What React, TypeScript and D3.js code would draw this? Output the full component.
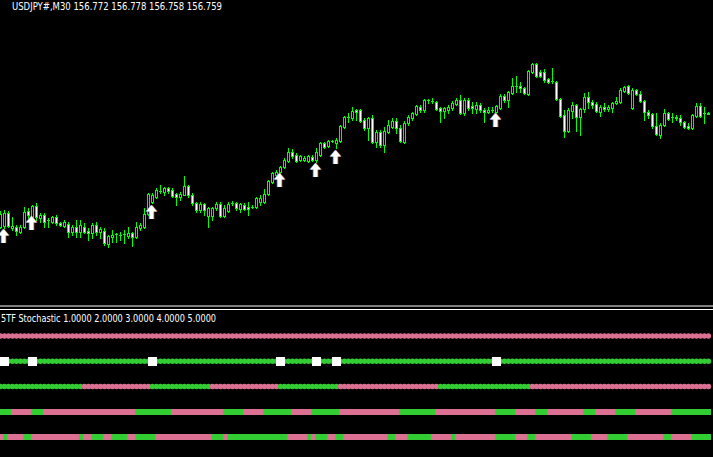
import React from "react";
import * as d3 from "d3";

const W = 713;
const H = 457;

const symbolLabel = "USDJPY#,M30";
const lastQuote = [156.772, 156.778, 156.758, 156.759];
const indicatorName = "5TF Stochastic";
const levels = [1, 2, 3, 4, 5];

// [open, high, low, close], one per M30 bar
const ohlc: number[][] = [
  [155.63, 155.79, 155.62, 155.76], [155.64, 155.8, 155.62, 155.77], [155.77, 155.79, 155.63, 155.64], [155.62, 155.73, 155.6, 155.64],
  [155.63, 155.65, 155.55, 155.59], [155.58, 155.65, 155.57, 155.63], [155.63, 155.83, 155.62, 155.78], [155.79, 155.82, 155.7, 155.75],
  [155.73, 155.85, 155.72, 155.84], [155.84, 155.87, 155.7, 155.73], [155.72, 155.77, 155.68, 155.75], [155.75, 155.77, 155.63, 155.68],
  [155.7, 155.72, 155.63, 155.7], [155.68, 155.74, 155.67, 155.73], [155.73, 155.75, 155.65, 155.67], [155.67, 155.68, 155.64, 155.65],
  [155.64, 155.7, 155.63, 155.68], [155.66, 155.68, 155.53, 155.58], [155.58, 155.65, 155.55, 155.63], [155.63, 155.7, 155.53, 155.58],
  [155.58, 155.7, 155.53, 155.65], [155.63, 155.67, 155.57, 155.58], [155.59, 155.62, 155.5, 155.57], [155.57, 155.67, 155.52, 155.65],
  [155.65, 155.68, 155.55, 155.58], [155.58, 155.63, 155.52, 155.61], [155.59, 155.62, 155.45, 155.47], [155.46, 155.55, 155.43, 155.54],
  [155.53, 155.6, 155.48, 155.55], [155.56, 155.57, 155.48, 155.56], [155.55, 155.58, 155.5, 155.55], [155.56, 155.6, 155.47, 155.56],
  [155.54, 155.63, 155.52, 155.57], [155.57, 155.58, 155.44, 155.53], [155.53, 155.68, 155.52, 155.63], [155.62, 155.67, 155.6, 155.65],
  [155.63, 155.82, 155.62, 155.76], [155.76, 155.97, 155.75, 155.96], [155.88, 155.97, 155.87, 155.95], [155.93, 156.02, 155.92, 156.0],
  [155.99, 156.05, 155.97, 155.99], [155.98, 156.03, 155.95, 156.02], [156.02, 156.03, 155.97, 155.99], [156.0, 156.02, 155.93, 155.94],
  [155.96, 155.97, 155.85, 155.93], [155.93, 155.98, 155.9, 155.96], [155.95, 156.14, 155.95, 156.04], [156.04, 156.05, 155.93, 155.95],
  [155.95, 155.97, 155.85, 155.87], [155.87, 155.88, 155.78, 155.8], [155.8, 155.88, 155.78, 155.86], [155.86, 155.87, 155.75, 155.8],
  [155.74, 155.83, 155.63, 155.82], [155.74, 155.83, 155.7, 155.82], [155.82, 155.88, 155.8, 155.86], [155.86, 155.88, 155.73, 155.74],
  [155.74, 155.85, 155.73, 155.82], [155.79, 155.88, 155.78, 155.86], [155.87, 155.89, 155.85, 155.87], [155.87, 155.88, 155.8, 155.82],
  [155.81, 155.87, 155.78, 155.86], [155.85, 155.87, 155.8, 155.81], [155.83, 155.88, 155.75, 155.81], [155.83, 155.85, 155.82, 155.83],
  [155.83, 155.93, 155.82, 155.92], [155.88, 155.95, 155.85, 155.92], [155.88, 156.01, 155.87, 155.96], [155.96, 156.1, 155.95, 156.09],
  [156.08, 156.18, 156.07, 156.17], [156.15, 156.2, 156.13, 156.18], [156.18, 156.24, 156.17, 156.23], [156.23, 156.32, 156.22, 156.3],
  [156.29, 156.42, 156.28, 156.38], [156.38, 156.41, 156.32, 156.34], [156.35, 156.37, 156.28, 156.29], [156.3, 156.35, 156.29, 156.34],
  [156.3, 156.34, 156.29, 156.32], [156.29, 156.35, 156.28, 156.34], [156.33, 156.35, 156.29, 156.3], [156.3, 156.42, 156.28, 156.38],
  [156.35, 156.48, 156.34, 156.47], [156.47, 156.48, 156.42, 156.43], [156.44, 156.5, 156.43, 156.49], [156.49, 156.5, 156.48, 156.49],
  [156.47, 156.52, 156.42, 156.5], [156.49, 156.65, 156.48, 156.64], [156.63, 156.74, 156.62, 156.73], [156.73, 156.77, 156.68, 156.73],
  [156.72, 156.83, 156.7, 156.79], [156.8, 156.81, 156.7, 156.78], [156.8, 156.81, 156.68, 156.69], [156.7, 156.72, 156.6, 156.62],
  [156.62, 156.73, 156.5, 156.72], [156.72, 156.75, 156.47, 156.48], [156.48, 156.6, 156.43, 156.58], [156.58, 156.6, 156.43, 156.45],
  [156.45, 156.63, 156.38, 156.59], [156.58, 156.7, 156.57, 156.65], [156.63, 156.72, 156.62, 156.69], [156.69, 156.72, 156.57, 156.62],
  [156.62, 156.65, 156.48, 156.49], [156.48, 156.69, 156.47, 156.67], [156.67, 156.75, 156.65, 156.73], [156.72, 156.78, 156.7, 156.77],
  [156.76, 156.85, 156.75, 156.84], [156.83, 156.85, 156.78, 156.8], [156.8, 156.91, 156.78, 156.9], [156.9, 156.91, 156.87, 156.9],
  [156.89, 156.92, 156.87, 156.89], [156.88, 156.89, 156.8, 156.81], [156.82, 156.83, 156.68, 156.79], [156.79, 156.83, 156.72, 156.82],
  [156.8, 156.85, 156.77, 156.83], [156.82, 156.89, 156.8, 156.87], [156.86, 156.92, 156.85, 156.9], [156.9, 156.95, 156.76, 156.77],
  [156.77, 156.92, 156.75, 156.9], [156.9, 156.92, 156.8, 156.82], [156.84, 156.88, 156.77, 156.82], [156.81, 156.88, 156.77, 156.85],
  [156.85, 156.87, 156.78, 156.8], [156.8, 156.82, 156.68, 156.78], [156.78, 156.83, 156.77, 156.8], [156.8, 156.83, 156.78, 156.8],
  [156.78, 156.85, 156.77, 156.84], [156.82, 156.96, 156.81, 156.94], [156.94, 156.96, 156.88, 156.9], [156.9, 156.99, 156.83, 156.98],
  [156.97, 157.12, 156.96, 157.04], [157.04, 157.14, 156.98, 157.04], [157.04, 157.08, 156.98, 157.02], [157.02, 157.03, 156.96, 156.97],
  [156.96, 157.2, 156.95, 157.19], [157.18, 157.27, 157.17, 157.26], [157.26, 157.27, 157.13, 157.14], [157.18, 157.2, 157.13, 157.14],
  [157.18, 157.21, 157.08, 157.1], [157.11, 157.12, 157.07, 157.08], [157.09, 157.22, 157.07, 157.09], [157.08, 157.09, 156.9, 156.91],
  [156.91, 156.92, 156.73, 156.74], [156.75, 156.8, 156.53, 156.59], [156.59, 156.82, 156.58, 156.8], [156.79, 156.88, 156.72, 156.85],
  [156.85, 156.86, 156.59, 156.73], [156.73, 156.82, 156.55, 156.81], [156.81, 156.97, 156.78, 156.93], [156.93, 156.98, 156.82, 156.88],
  [156.88, 156.9, 156.82, 156.85], [156.86, 156.88, 156.78, 156.79], [156.78, 156.85, 156.74, 156.83], [156.83, 156.87, 156.79, 156.81],
  [156.81, 156.85, 156.79, 156.83], [156.82, 156.88, 156.78, 156.87], [156.87, 156.93, 156.86, 156.89], [156.88, 157.02, 156.87, 157.0],
  [156.99, 157.04, 156.98, 157.03], [157.04, 157.05, 156.96, 156.97], [156.82, 157.02, 156.81, 157.0], [157.0, 157.01, 156.95, 156.96],
  [156.96, 156.99, 156.88, 156.89], [156.89, 156.9, 156.7, 156.78], [156.78, 156.8, 156.72, 156.75], [156.76, 156.77, 156.62, 156.64],
  [156.64, 156.77, 156.55, 156.56], [156.55, 156.67, 156.52, 156.65], [156.65, 156.81, 156.64, 156.77], [156.77, 156.78, 156.7, 156.71],
  [156.73, 156.77, 156.68, 156.73], [156.72, 156.75, 156.7, 156.73], [156.72, 156.75, 156.65, 156.68], [156.68, 156.69, 156.62, 156.63],
  [156.64, 156.67, 156.61, 156.62], [156.62, 156.76, 156.61, 156.75], [156.74, 156.87, 156.73, 156.84], [156.84, 156.87, 156.73, 156.74],
  [156.77, 156.83, 156.67, 156.77], [156.772, 156.778, 156.758, 156.759],
];

// buy arrows: bar index and arrow price
const signalBars = [1, 8, 38, 70, 79, 84, 124];
const signalPrices = [155.61, 155.74, 155.85, 156.17, 156.27, 156.4, 156.77];

// indicator rows as run lengths of alternating state (G = up, P = down)
const level5Start = "P";
const level5Runs = [178];
const level4Start = "G";
const level4Runs = [178];
const level3Start = "G";
const level3Runs = [21, 17, 15, 17, 15, 25, 23, 45];
const level2Start = "G";
const level2Runs = [3, 5, 3, 23, 9, 13, 5, 5, 7, 5, 7, 15, 9, 15, 5, 5, 3, 9, 3, 5, 5, 9, 10];
const level1Start = "P";
const level1Runs = [1, 1, 4, 2, 12, 1, 2, 3, 2, 4, 2, 5, 14, 3, 1, 15, 5, 1, 1, 3, 2, 2, 11, 2, 3, 6, 5, 1, 10, 5, 3, 2, 9, 5, 4, 5, 9, 2, 5, 5];

const LIME = "#00ff00";
const UP = "#32cd32";
const DOWN = "#db7093";
const FONT = "DejaVu Sans, Verdana, sans-serif";

function expand(start: string, runs: number[]) {
  const out: string[] = [];
  let s = start;
  runs.forEach((n) => {
    for (let k = 0; k < n; k++) out.push(s);
    s = s === "G" ? "P" : "G";
  });
  return out;
}

const rows = [
  { level: 5, dots: true, states: expand(level5Start, level5Runs) },
  { level: 4, dots: true, states: expand(level4Start, level4Runs) },
  { level: 3, dots: true, states: expand(level3Start, level3Runs) },
  { level: 2, dots: false, states: expand(level2Start, level2Runs) },
  { level: 1, dots: false, states: expand(level1Start, level1Runs) },
];

const arrowPath = "M0,0 L5.5,6.5 L2,6.5 L2,14 L-2,14 L-2,6.5 L-5.5,6.5 Z";

export default function App() {
  const x = d3.scaleLinear().domain([0, ohlc.length - 1]).range([0.5, 708.5]);
  const y = d3.scaleLinear().domain([155.0, 157.9]).range([290, 0]);
  const lv = d3.scaleLinear().domain([1, 5]).range([437, 336]);

  const header = `${symbolLabel}  ${lastQuote.map((v) => v.toFixed(3)).join(" ")}`;
  const subHeader = `${indicatorName} ${levels.map((v) => v.toFixed(4)).join(" ")}`;

  return (
    <>
      <style>{"body{margin:0;background:#000}"}</style>
      <svg width={W} height={H} style={{ display: "block", background: "#000" }}>
        <rect width={W} height={H} fill="#000" />

        {ohlc.map(([o, h, l, c], i) => {
          const cx = x(i);
          const top = Math.round(y(Math.max(o, c)));
          const bot = Math.round(y(Math.min(o, c)));
          const bull = c >= o;
          return (
            <g key={i}>
              <line x1={cx} x2={cx} y1={Math.round(y(h))} y2={Math.round(y(l)) + 1} stroke={LIME} />
              {bot - top >= 1 ? (
                <rect x={cx - 1} y={top + 0.5} width={2} height={bot - top} fill={bull ? "#000" : "#fff"} stroke={LIME} />
              ) : (
                <line x1={cx - 1.5} x2={cx + 1.5} y1={top + 0.5} y2={top + 0.5} stroke={LIME} />
              )}
            </g>
          );
        })}

        {signalBars.map((b, k) => {
          const ax = x(b) - 1;
          const ay = Math.round(y(signalPrices[k]));
          return (
            <g key={b}>
              <path d={arrowPath} transform={`translate(${ax + 0.8},${ay})`} fill="#c06a2a" />
              <path d={arrowPath} transform={`translate(${ax - 0.8},${ay})`} fill="#4a7ac8" />
              <path d={arrowPath} transform={`translate(${ax},${ay})`} fill="#fff" />
            </g>
          );
        })}

        <text x={12} y={10} fill="#fff" fontFamily={FONT} fontSize={10}
          textLength={210} lengthAdjust="spacingAndGlyphs">{header}</text>

        <line x1={0} x2={W} y1={306} y2={306} stroke="#fff" />
        <line x1={0} x2={W} y1={309.5} y2={309.5} stroke="#fff" />

        <text x={1} y={322} fill="#fff" fontFamily={FONT} fontSize={10}
          textLength={215} lengthAdjust="spacingAndGlyphs">{subHeader}</text>

        {rows.map((r) => (
          <g key={r.level} shapeRendering={r.dots ? undefined : "crispEdges"}>
            {r.states.map((s, i) =>
              r.dots ? (
                <circle key={i} cx={x(i)} cy={lv(r.level)} r={2.7} fill={s === "G" ? UP : DOWN} />
              ) : (
                <rect key={i} x={x(i) - 1.5} y={Math.round(lv(r.level) - 3)} width={4} height={6} fill={s === "G" ? UP : DOWN} />
              )
            )}
          </g>
        ))}

        {signalBars.map((b) => (
          <rect key={b} x={x(b) - 4.5} y={Math.round(lv(4) - 4.5)} width={9} height={9} fill="#fff" />
        ))}
      </svg>
    </>
  );
}
